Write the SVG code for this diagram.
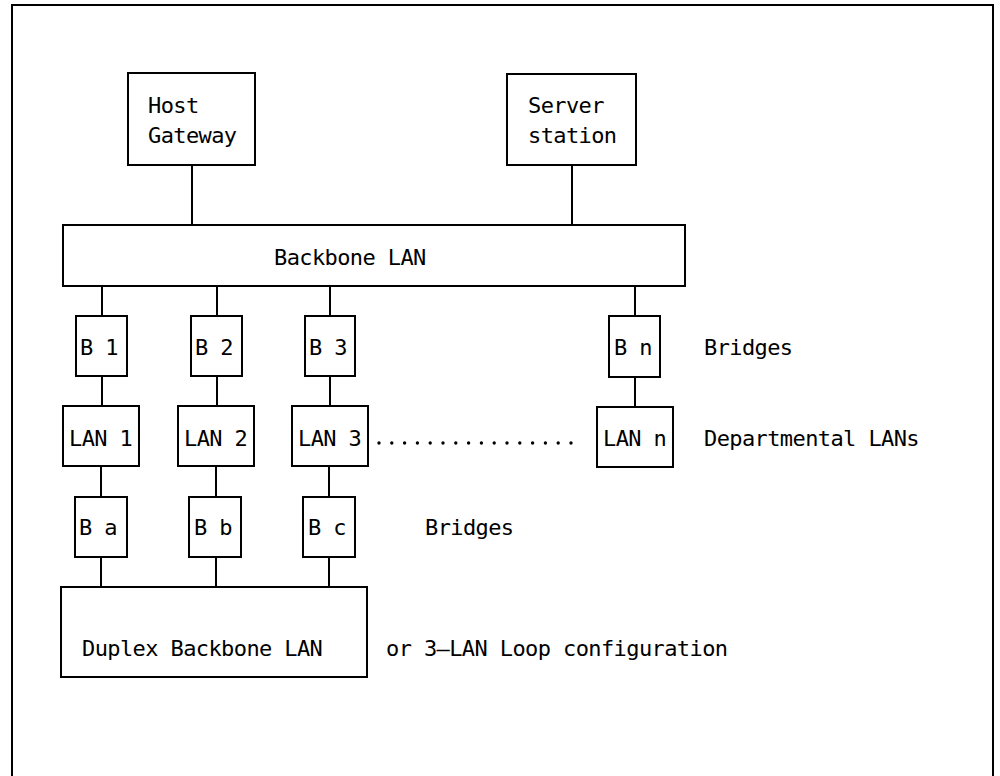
<svg xmlns="http://www.w3.org/2000/svg" width="1000" height="776" viewBox="0 0 1000 776">
<style>
.box{fill:#fff;stroke:#000;stroke-width:2}
.ln{stroke:#000;stroke-width:2;fill:none}
text{font-family:"DejaVu Sans Mono","Liberation Mono",monospace;font-size:22px;letter-spacing:-0.6px;fill:#000}
</style>
<rect width="1000" height="776" fill="#fff"/>
<rect x="12" y="5" width="981" height="790" class="ln"/>
<g id="connectors">
<line x1="192" y1="165" x2="192" y2="225" class="ln"/>
<line x1="572" y1="165" x2="572" y2="225" class="ln"/>
<line x1="102" y1="286" x2="102" y2="316" class="ln"/>
<line x1="217" y1="286" x2="217" y2="316" class="ln"/>
<line x1="330" y1="286" x2="330" y2="316" class="ln"/>
<line x1="635" y1="286" x2="635" y2="316" class="ln"/>
<line x1="102" y1="376" x2="102" y2="406" class="ln"/>
<line x1="217" y1="376" x2="217" y2="406" class="ln"/>
<line x1="330" y1="376" x2="330" y2="406" class="ln"/>
<line x1="635" y1="377" x2="635" y2="407" class="ln"/>
<line x1="101" y1="466" x2="101" y2="497" class="ln"/>
<line x1="216" y1="466" x2="216" y2="497" class="ln"/>
<line x1="329" y1="466" x2="329" y2="497" class="ln"/>
<line x1="101" y1="557" x2="101" y2="587" class="ln"/>
<line x1="216" y1="557" x2="216" y2="587" class="ln"/>
<line x1="329" y1="557" x2="329" y2="587" class="ln"/>
<line x1="379" y1="443" x2="572" y2="443" stroke="#000" stroke-width="3.4" stroke-linecap="round" stroke-dasharray="0 12.8"/>
</g>
<g id="host"><rect x="128" y="73" width="127" height="92" class="box"/><text x="148" y="113">Host</text><text x="148" y="143">Gateway</text></g>
<g id="server"><rect x="507" y="74" width="129" height="91" class="box"/><text x="528" y="113">Server</text><text x="528" y="143">station</text></g>
<g id="backbone"><rect x="63" y="225" width="622" height="61" class="box"/><text x="274" y="265">Backbone LAN</text></g>
<g id="b1"><rect x="76" y="316" width="51" height="60" class="box"/><text x="80" y="355">B 1</text></g>
<g id="b2"><rect x="191" y="316" width="51" height="60" class="box"/><text x="195" y="355">B 2</text></g>
<g id="b3"><rect x="305" y="316" width="50" height="60" class="box"/><text x="309" y="355">B 3</text></g>
<g id="bn"><rect x="609" y="316" width="51" height="61" class="box"/><text x="614" y="355">B n</text></g>
<g id="lan1"><rect x="63" y="406" width="76" height="60" class="box"/><text x="69" y="446">LAN 1</text></g>
<g id="lan2"><rect x="178" y="406" width="76" height="60" class="box"/><text x="184" y="446">LAN 2</text></g>
<g id="lan3"><rect x="292" y="406" width="76" height="60" class="box"/><text x="298" y="446">LAN 3</text></g>
<g id="lann"><rect x="597" y="407" width="76" height="60" class="box"/><text x="603" y="446">LAN n</text></g>
<g id="ba"><rect x="75" y="497" width="52" height="60" class="box"/><text x="79" y="535">B a</text></g>
<g id="bb"><rect x="189" y="497" width="52" height="60" class="box"/><text x="194" y="535">B b</text></g>
<g id="bc"><rect x="303" y="497" width="52" height="60" class="box"/><text x="308" y="535">B c</text></g>
<g id="duplex"><rect x="61" y="587" width="306" height="90" class="box"/><text x="82" y="656">Duplex Backbone LAN</text></g>
<g id="labels">
<text x="704" y="355">Bridges</text>
<text x="704" y="446">Departmental LANs</text>
<text x="425" y="535">Bridges</text>
<text x="386" y="656">or 3–LAN Loop configuration</text>
</g>
</svg>
